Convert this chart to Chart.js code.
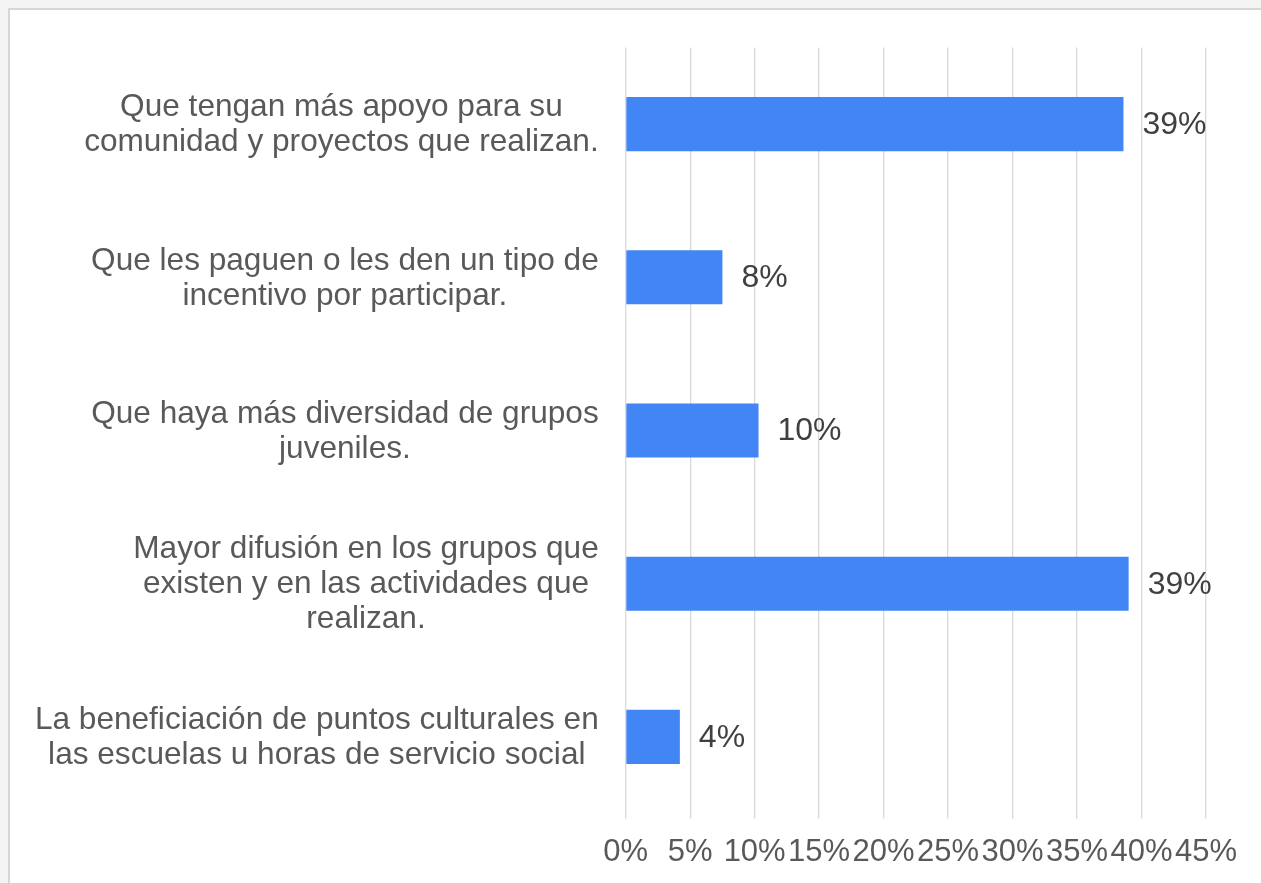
<!DOCTYPE html>
<html>
<head>
<meta charset="utf-8">
<script src="https://cdn.jsdelivr.net/npm/chart.js@4/dist/chart.umd.min.js"></script>
<style>
  html, body { margin: 0; padding: 0; background: #f4f4f4; overflow: hidden; }
  #frame { position: absolute; left: 8px; top: 8px; width: 1300px; height: 920px; border: 2px solid #d6d6d6; background: #ffffff; }
  #wrap { position: absolute; left: 0; top: 0; width: 1261px; height: 883px; }
</style>
</head>
<body>
<div id="frame"></div>
<div id="wrap"><canvas id="c" width="1261" height="883"></canvas></div>
<script>
const categories = [
  ["Que tengan más apoyo para su", "comunidad y proyectos que realizan."],
  ["Que les paguen o les den un tipo de", "incentivo por participar."],
  ["Que haya más diversidad de grupos", "juveniles."],
  ["Mayor difusión en los grupos que", "existen y en las actividades que", "realizan."],
  ["La beneficiación de puntos culturales en", "las escuelas u horas de servicio social"]
];
const values = [38.6, 7.5, 10.3, 39.0, 4.2];
const valueLabels = ["39%", "8%", "10%", "39%", "4%"];
const xTicks = [0, 5, 10, 15, 20, 25, 30, 35, 40, 45];

const FONT = "'Liberation Sans', Arial, sans-serif";

const catLabelPlugin = {
  id: 'catLabels',
  afterDraw(chart) {
    const ctx = chart.ctx;
    const yScale = chart.scales.y;
    ctx.save();
    ctx.font = "31.6px " + FONT;
    ctx.fillStyle = "#595959";
    ctx.textAlign = "center";
    ctx.textBaseline = "middle";
    const lineH = 35;
    const rightEdge = chart.chartArea.left - 27;
    categories.forEach((lines, i) => {
      const cy = yScale.getPixelForValue(i);
      let maxW = 0;
      lines.forEach(l => { maxW = Math.max(maxW, ctx.measureText(l).width); });
      const cx = rightEdge - maxW / 2;
      const y0 = cy - (lines.length - 1) * lineH / 2 + 1;
      lines.forEach((l, k) => ctx.fillText(l, cx, y0 + k * lineH));
    });
    ctx.restore();
  }
};

const valueLabelPlugin = {
  id: 'valueLabels',
  afterDatasetsDraw(chart) {
    const ctx = chart.ctx;
    const meta = chart.getDatasetMeta(0);
    ctx.save();
    ctx.font = "32px " + FONT;
    ctx.fillStyle = "#404040";
    ctx.textAlign = "left";
    ctx.textBaseline = "middle";
    meta.data.forEach((bar, i) => {
      ctx.fillText(valueLabels[i], bar.x + 19, bar.y + 1);
    });
    ctx.restore();
  }
};

new Chart(document.getElementById('c'), {
  type: 'bar',
  data: {
    labels: categories.map(c => c.join(' ')),
    datasets: [{
      data: values,
      backgroundColor: '#4285f4',
      borderWidth: 0,
      categoryPercentage: 1.0,
      barPercentage: 0.353
    }]
  },
  options: {
    indexAxis: 'y',
    responsive: false,
    animation: false,
    devicePixelRatio: 1,
    layout: { padding: { left: 0, right: 55, top: 47.5, bottom: 0 } },
    plugins: { legend: { display: false }, tooltip: { enabled: false } },
    scales: {
      x: {
        min: 0, max: 45,
        afterBuildTicks: (s) => { s.ticks = xTicks.map(v => ({ value: v })); },
        afterFit: (s) => { s.height = 69.5; },
        grid: { color: '#d9d9d9', lineWidth: 1.3, drawTicks: true, tickLength: 5, tickColor: '#d9d9d9' },
        border: { display: false },
        ticks: {
          callback: (v) => v + '%',
          color: '#595959',
          font: { family: FONT, size: 31 },
          padding: 15,
          maxRotation: 0,
          autoSkip: false
        }
      },
      y: {
        afterFit: (s) => { s.width = 625.7; },
        grid: { display: false },
        border: { display: false },
        ticks: { display: false }
      }
    }
  },
  plugins: [catLabelPlugin, valueLabelPlugin]
});
</script>
</body>
</html>
